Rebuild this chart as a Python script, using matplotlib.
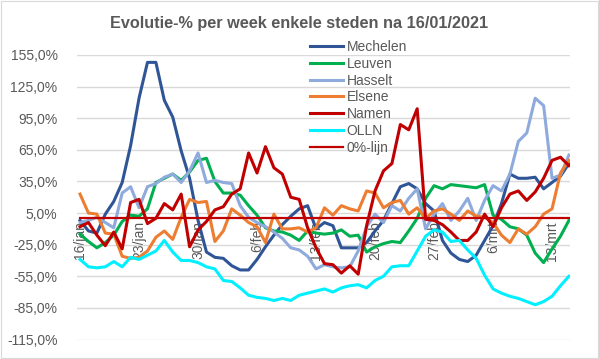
import matplotlib
matplotlib.use("Agg")
import matplotlib.pyplot as plt
from matplotlib.patches import Rectangle
import numpy as np

title = "Evolutie-% per week enkele steden na 16/01/2021"
days = list(range(59))  # 16/jan .. 15/mrt
tick_days = [0, 7, 14, 21, 28, 35, 42, 49, 56]
tick_labels = ["16/jan", "23/jan", "30/jan", "6/feb", "13/feb", "20/feb", "27/feb", "6/mrt", "13/mrt"]

mechelen = [-2, -12, -14, 4, 16, 34, 69, 114, 148, 148, 112, 96, 64, 38, -2, -32, -37, -38, -45, -49,
            -49, -39, -27, -16, -6, 2, 9, 12, -10, -4, -7, -28, -28, -28, -23, -12, -2, 14, 30, 33,
            28, 14, 7, -21, -33, -39, -41, -35, -21, -7, 14, 42, 38, 38, 39, 28, 34, 40, 52]
leuven = [-15, -22, -28, -23, -16, -3, 3, 2, 9, 34, 38, 42, 36, 44, 55, 57, 35, 24, 24, 22,
          12, 3, -9, -12, -13, -16, -21, -12, -14, -15, -14, -11, -17, -16, -32, -27, -24, -22, -23, -12,
          0, 19, 31, 28, 32, 31, 30, 29, 32, 3, -1, -8, -10, -16, -33, -42, -29, -17, -2]
hasselt = [-4, -2, 1, -4, -9, 24, 30, 10, 30, 33, 39, 42, 34, 45, 62, 34, 36, 34, 33, 12,
           1, -4, -8, -13, -19, -28, -30, -36, -48, -44, -46, -47, -46, -31, -8, 4, -4, 12, 7, 19,
           28, -10, 4, 14, -2, 7, 19, -2, 17, 31, 26, 42, 73, 81, 114, 107, 38, 41, 60]
elsene = [23, 5, 4, -14, -15, -36, -38, -37, -31, -18, -12, -20, 1, 18, 15, 16, -22, -12, 9, 3,
          -4, -8, -23, 4, -10, -10, -9, -13, -9, 10, 3, 12, 9, 7, 26, 24, 10, 15, 17, 4,
          10, 0, 7, 9, 4, -2, 7, 2, 1, -4, -16, -23, -10, -15, -8, 4, 9, 43, 55]
namen = [-8, -4, -16, -26, -13, -29, 15, 18, -5, 0, 14, 8, 23, -27, -11, -3, 8, 11, 23, 28,
         62, 43, 68, 48, 42, 20, 18, -9, -28, -43, -44, -52, -45, -53, -7, 26, 45, 52, 89, 84,
         104, -1, -2, -6, -13, -21, -21, -13, 4, -8, 10, 23, 26, 17, 25, 38, 55, 58, 50]
olln = [-39, -46, -47, -46, -41, -46, -37, -39, -35, -31, -21, -32, -40, -40, -42, -46, -48, -59, -60, -66,
        -73, -75, -76, -78, -76, -78, -73, -71, -69, -67, -70, -66, -64, -63, -66, -59, -55, -46, -45, -45,
        -31, -17, -11, -13, -22, -21, -30, -38, -54, -67, -71, -74, -76, -79, -82, -79, -74, -64, -55]
nul_lijn = [0] * 59

series = [
    ("Mechelen", mechelen, "#2F5597", 2.2),
    ("Leuven", leuven, "#00B050", 2.2),
    ("Hasselt", hasselt, "#8FAADC", 2.2),
    ("Elsene", elsene, "#ED7D31", 2.2),
    ("Namen", namen, "#C00000", 2.2),
    ("OLLN", olln, "#00F0FF", 2.2),
    ("0%-lijn", nul_lijn, "#C00000", 1.6),
]

plt.rcParams['font.family'] = ['Liberation Sans', 'DejaVu Sans']
fig = plt.figure(figsize=(5.99, 3.59), dpi=100)
fig.patch.set_facecolor("white")
fig.add_artist(Rectangle((0.0015, 0.0025), 0.997, 0.995, transform=fig.transFigure,
                         fill=False, edgecolor="#D9D9D9", linewidth=0.8))

ax = fig.add_axes([77/599, 1-339.5/359, 493/599, 284.5/359])
for name, vals, col, lw in series:
    ax.plot(days, vals, color=col, linewidth=lw, label=name, solid_joinstyle="round")

ax.set_ylim(-115, 155)
ax.set_xlim(-0.36, 58.13)
yt = np.arange(-115, 156, 30)
ax.set_yticks(yt)
ax.set_yticklabels([("%.1f%%" % v).replace(".", ",") for v in yt], color="#595959", fontsize=10)
ax.yaxis.grid(True, color="#D9D9D9", linewidth=1.0)
ax.set_axisbelow(True)
ax.tick_params(axis="y", length=0, pad=14)

ax.spines['bottom'].set_position(('data', 0))
ax.spines['bottom'].set_visible(False)
for s in ['top', 'right', 'left']:
    ax.spines[s].set_visible(False)
ax.set_xticks(tick_days)
ax.set_xticklabels(tick_labels, rotation=90, color="#595959", fontsize=10, va="top", ha="center")
ax.tick_params(axis="x", length=0, pad=2)

fig.suptitle(title, fontsize=11.7, fontweight="bold", color="#595959", x=0.5, y=1-16/359, va="top")

leg = ax.legend(loc="upper left", bbox_to_anchor=(310/599, 1-40/359), bbox_transform=fig.transFigure,
                frameon=False, fontsize=10, handlelength=2.4, handletextpad=0.25, labelspacing=0.2,
                borderpad=0, borderaxespad=0)
for t in leg.get_texts():
    t.set_color("#595959")

fig.savefig("out.png", dpi=100)
